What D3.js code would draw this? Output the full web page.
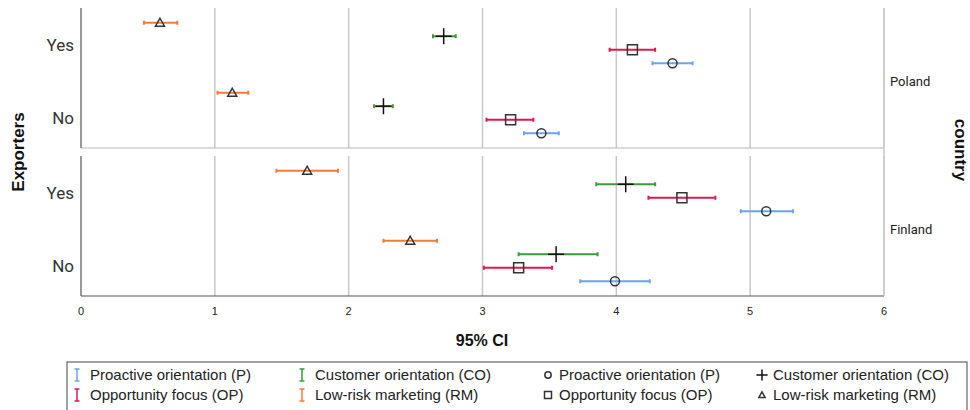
<!DOCTYPE html>
<html><head><meta charset="utf-8">
<script src="https://cdn.jsdelivr.net/npm/d3@7"></script>
<style>body{margin:0;background:#fff;font-family:"Liberation Sans",Arial,sans-serif}</style>
</head><body><svg id="c" width="970" height="410"></svg>
<script>
const countries = ["Poland", "Finland"];
const exporters = ["Yes", "No"];
const seriesNames = ["Low-risk marketing (RM)", "Customer orientation (CO)", "Opportunity focus (OP)", "Proactive orientation (P)"];
const seriesKeys = ["RM", "CO", "OP", "P"];
const seriesColors = ["#f47a3c", "#3d9a3d", "#e0184d", "#6aa5ee"];
const seriesSymbols = ["triangle", "plus", "square", "circle"];
const xTicks = [0, 1, 2, 3, 4, 5, 6];
// [mean, low, high] per series (RM, CO, OP, P)
const polandYes = [[0.59, 0.47, 0.72], [2.71, 2.63, 2.80], [4.12, 3.95, 4.29], [4.42, 4.27, 4.57]];
const polandNo  = [[1.13, 1.02, 1.25], [2.26, 2.19, 2.33], [3.21, 3.03, 3.38], [3.44, 3.31, 3.57]];
const finlandYes = [[1.69, 1.46, 1.92], [4.07, 3.85, 4.29], [4.49, 4.24, 4.74], [5.12, 4.93, 5.32]];
const finlandNo  = [[2.46, 2.26, 2.66], [3.55, 3.27, 3.86], [3.27, 3.01, 3.52], [3.99, 3.73, 4.25]];

const data = {Poland: {Yes: polandYes, No: polandNo}, Finland: {Yes: finlandYes, No: finlandNo}};

const svg = d3.select("#c");
const x = d3.scaleLinear().domain([0, 6]).range([81, 884]);
const panels = [{name: "Poland", top: 8, bottom: 148}, {name: "Finland", top: 156, bottom: 296}];
const labelShift = {Yes: 4, No: 7};

panels.forEach(p => {
  const g = svg.append("g");
  const y = d3.scaleBand().domain(exporters).range([p.top, p.bottom]);
  const off = d3.scalePoint().domain(seriesKeys).range([-20.25, 20.25]);
  g.selectAll("line.grid").data(xTicks.slice(1)).join("line")
    .attr("x1", d => x(d)).attr("x2", d => x(d)).attr("y1", p.top).attr("y2", p.bottom)
    .attr("stroke", "#c8c8c8").attr("stroke-width", 1.5);
  g.append("line").attr("x1", 81).attr("x2", 884).attr("y1", p.bottom).attr("y2", p.bottom)
    .attr("stroke", p.name === "Finland" ? "#555" : "#b8b8b8").attr("stroke-width", 1.2);
  g.append("line").attr("x1", 81).attr("x2", 81).attr("y1", p.top).attr("y2", p.bottom)
    .attr("stroke", "#555").attr("stroke-width", 1.2);
  exporters.forEach(e => {
    g.append("text").attr("x", 74).attr("y", y(e) + y.bandwidth() / 2 + labelShift[e]).attr("text-anchor", "end")
      .attr("dominant-baseline", "middle").attr("font-size", 17).attr("fill", "#333")
      .attr("font-family", "Roboto, 'Liberation Sans', sans-serif").text(e);
  });
  g.append("text").attr("x", 890).attr("y", (p.top + p.bottom) / 2 + 5).attr("dominant-baseline", "middle")
    .attr("font-size", 13).attr("fill", "#222").attr("font-family", "Roboto, 'Liberation Sans', sans-serif").text(p.name);
  exporters.forEach(e => {
    data[p.name][e].forEach((v, i) => {
      const cy = y(e) + y.bandwidth() / 2 + off(seriesKeys[i]);
      const col = seriesColors[i];
      g.append("line").attr("x1", x(v[1])).attr("x2", x(v[2])).attr("y1", cy).attr("y2", cy)
        .attr("stroke", col).attr("stroke-width", 2);
      [v[1], v[2]].forEach(t => g.append("line").attr("x1", x(t)).attr("x2", x(t)).attr("y1", cy - 2).attr("y2", cy + 2)
        .attr("stroke", col).attr("stroke-width", 2));
      drawSymbol(g, seriesSymbols[i], x(v[0]), cy, 1);
    });
  });
});

function drawSymbol(g, s, cx, cy, sc) {
  let el;
  if (s === "circle") el = g.append("circle").attr("cx", cx).attr("cy", cy).attr("r", 4.5 * sc);
  else if (s === "square") el = g.append("rect").attr("x", cx - 5 * sc).attr("y", cy - 5 * sc).attr("width", 10 * sc).attr("height", 10 * sc);
  else if (s === "triangle") el = g.append("path").attr("d", `M${cx},${cy - 4.5 * sc}L${cx + 4.5 * sc},${cy + 3.5 * sc}L${cx - 4.5 * sc},${cy + 3.5 * sc}Z`);
  else el = g.append("path").attr("d", `M${cx - 8 * sc},${cy}H${cx + 8 * sc}M${cx},${cy - 8 * sc}V${cy + 8 * sc}`);
  el.attr("stroke", s === "plus" ? "#111" : "#333").attr("stroke-width", 1.5).attr("fill", "none");
}

svg.append("line").attr("x1", 884).attr("x2", 884).attr("y1", 8).attr("y2", 296).attr("stroke", "#c8c8c8").attr("stroke-width", 1.5);

svg.selectAll("text.xt").data(xTicks).join("text").attr("x", d => x(d)).attr("y", 315).attr("text-anchor", "middle")
  .attr("font-size", 11).attr("fill", "#222").attr("font-family", "'Liberation Sans Narrow', 'Liberation Sans', sans-serif").text(d => d);

svg.append("text").attr("x", 482).attr("y", 346).attr("text-anchor", "middle").attr("font-size", 16).attr("font-weight", "bold")
  .attr("fill", "#111").text("95% CI");
svg.append("text").attr("transform", "translate(24,152) rotate(-90)").attr("text-anchor", "middle").attr("font-size", 17)
  .attr("font-weight", "bold").attr("fill", "#111").text("Exporters");
svg.append("text").attr("transform", "translate(955,150) rotate(90)").attr("text-anchor", "middle").attr("font-size", 17)
  .attr("font-weight", "bold").attr("fill", "#111").text("country");

const lg = svg.append("g");
lg.append("rect").attr("x", 67).attr("y", 362).attr("width", 900).attr("height", 60).attr("fill", "none").attr("stroke", "#444").attr("stroke-width", 1);
const legendItems = [
  {type: "bar", si: 3, col: 0, row: 0}, {type: "bar", si: 2, col: 0, row: 1},
  {type: "bar", si: 1, col: 1, row: 0}, {type: "bar", si: 0, col: 1, row: 1},
  {type: "sym", si: 3, col: 2, row: 0}, {type: "sym", si: 2, col: 2, row: 1},
  {type: "sym", si: 1, col: 3, row: 0}, {type: "sym", si: 0, col: 3, row: 1}
];
const colX = [77, 302, 546, 760];
legendItems.forEach(it => {
  const lx = colX[it.col], ly = 375 + it.row * 20;
  if (it.type === "bar") {
    const c = seriesColors[it.si];
    lg.append("line").attr("x1", lx).attr("x2", lx).attr("y1", ly - 6).attr("y2", ly + 6).attr("stroke", c).attr("stroke-width", 1.5);
    lg.append("line").attr("x1", lx - 2.5).attr("x2", lx + 2.5).attr("y1", ly - 6).attr("y2", ly - 6).attr("stroke", c).attr("stroke-width", 1.5);
    lg.append("line").attr("x1", lx - 2.5).attr("x2", lx + 2.5).attr("y1", ly + 6).attr("y2", ly + 6).attr("stroke", c).attr("stroke-width", 1.5);
  } else {
    drawSymbol(lg, seriesSymbols[it.si], lx + 2, ly, 0.7);
  }
  lg.append("text").attr("x", lx + 13).attr("y", ly + 1).attr("dominant-baseline", "middle").attr("font-size", 15)
    .attr("fill", "#222").text(seriesNames[it.si]);
});
</script></body></html>
